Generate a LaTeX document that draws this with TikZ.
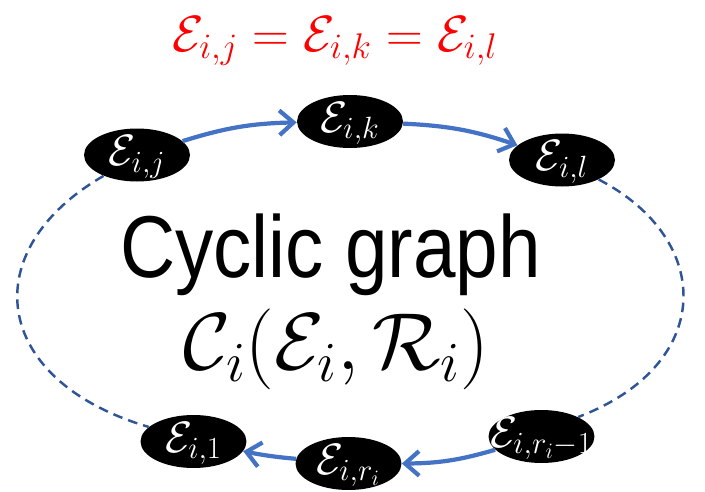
\RequirePackage{fix-cm}
\documentclass[tikz,border=0pt]{standalone}
\usepackage{fontspec}
\usepackage{graphicx}
\newfontfamily\arialfont{Liberation Sans}
\usetikzlibrary{shapes.geometric,arrows.meta}
\definecolor{succblue}{RGB}{68,114,196}
\definecolor{gapblue}{RGB}{47,85,151}
\newcommand\entlabel[1]{\makebox[0pt]{$#1$}}

\begin{document}
\begin{tikzpicture}[
        entity/.style={ellipse, fill=black, text=white, inner sep=0pt,
            minimum width=2.12cm, minimum height=1.06cm,
            text height=14pt, text depth=2pt,
            font=\fontsize{25}{27}\selectfont},
        succ/.style={draw=succblue, line width=2.4pt,
            -{Straight Barb[length=8pt,width=14pt]}},
        gap/.style={draw=gapblue, line width=1.4pt, dash pattern=on 5.5pt off 3.5pt}
    ]
        \useasboundingbox (0,0) rectangle (14.1,-9.84);

        % Entities on the cycle
        \node[entity] (eij) at (2.74,-3.10) {\entlabel{\mathcal{E}_{i,j}}};
        \node[entity] (eik) at (7.00,-2.43) {\entlabel{\mathcal{E}_{i,k}}};
        \node[entity] (eil) at (11.24,-3.20) {\entlabel{\mathcal{E}_{i,l}}};
        \node[entity] (erm) at (10.83,-8.73) {\entlabel{\mathcal{E}_{i,r_i-1}}};
        \node[entity] (eri) at (6.97,-9.27) {\entlabel{\mathcal{E}_{i,r_i}}};
        \node[entity] (eone) at (3.87,-8.83) {\entlabel{\mathcal{E}_{i,1}}};

        % Successor edges
        \draw[succ] (eij) to[bend left=8] (eik);
        \draw[succ] (eik) to[bend left=8] (eil);
        \draw[succ] (erm) to[bend left=8] (eri);
        \draw[succ] (eri) to[bend left=3] (eone);

        % Omitted part of the cycle
        \draw[gap] (eij.212) .. controls (-0.5,-5.0) and (-0.2,-7.6) .. (eone.162);
        \draw[gap] (eil.-28) .. controls (14.3,-4.8) and (14.3,-7.3) .. (erm.28);

        % Labels
        \node (eq) at (6.70,-0.82) [inner sep=0pt, text=red, font=\fontsize{29}{32}\selectfont]
            {$\mathcal{E}_{i,j}=\mathcal{E}_{i,k}=\mathcal{E}_{i,l}$};
        \node (name) at (6.61,-5.10) [inner sep=0pt, font=\arialfont\fontsize{50}{56}\selectfont]
            {\scalebox{0.87}[1]{Cyclic graph}};
        \node (sig) at (6.73,-6.98) [inner sep=0pt, font=\fontsize{46}{50}\selectfont]
            {$\mathcal{C}_i(\mathcal{E}_i,\mathcal{R}_i)$};
\end{tikzpicture}
\end{document}
